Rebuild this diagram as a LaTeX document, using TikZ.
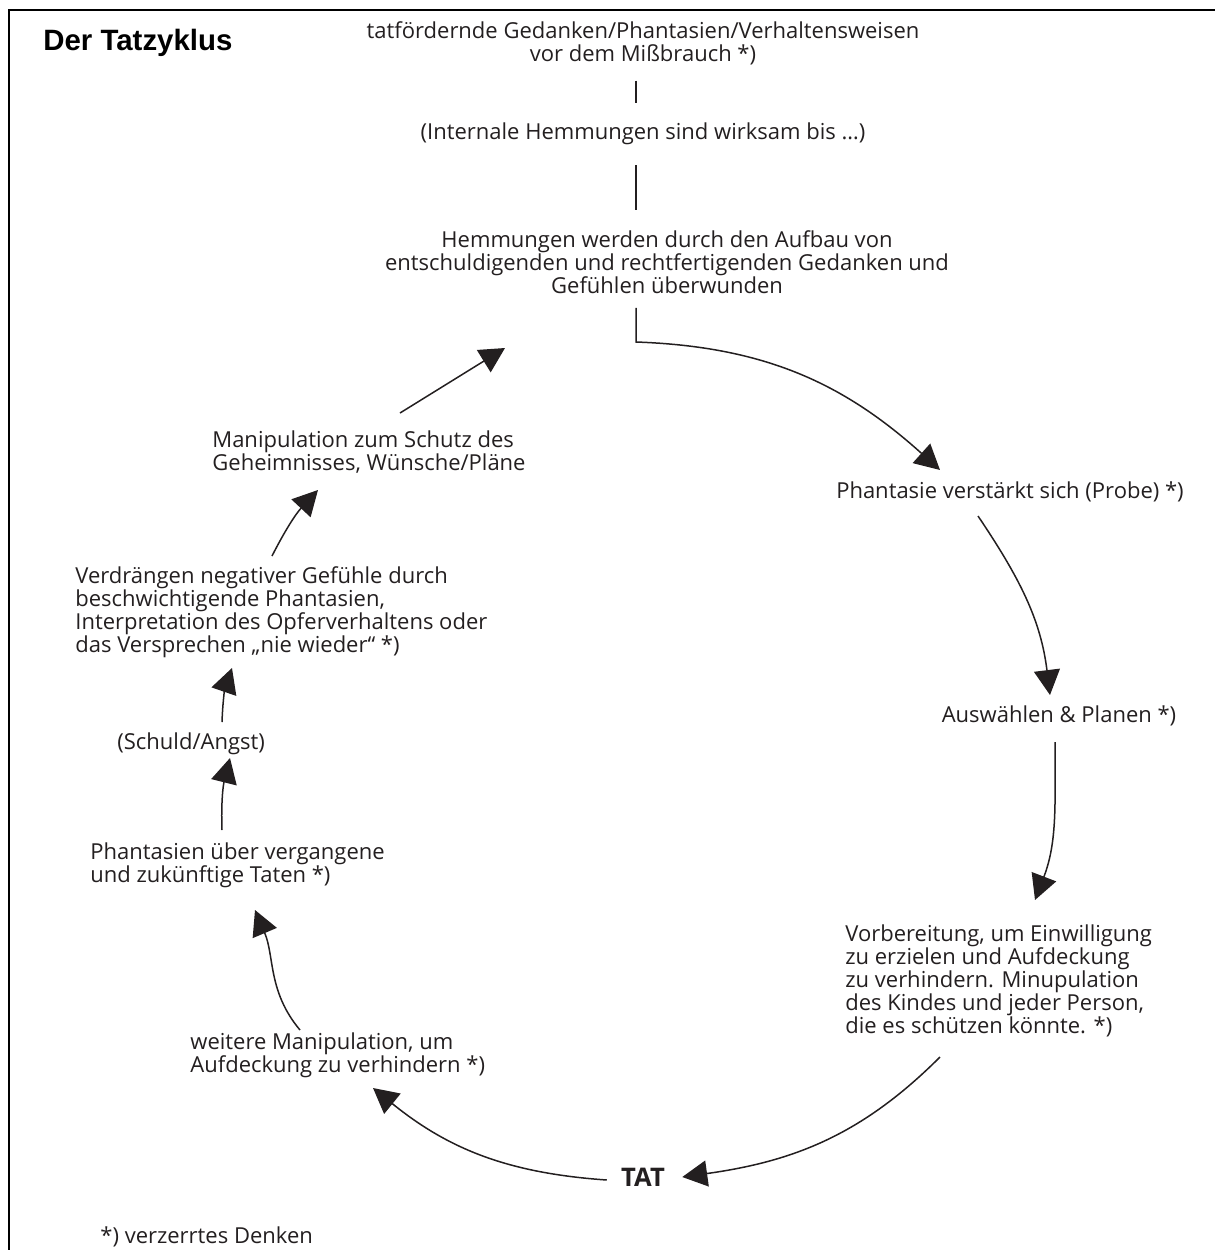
\documentclass[tikz,border=0pt]{standalone}
\usepackage{fontspec}
\setmainfont{Open Sans}
\newfontfamily\titlefont{Liberation Sans}
\usetikzlibrary{arrows.meta,calc}
\definecolor{ink}{RGB}{35,31,32}
\begin{document}
\begin{tikzpicture}[x=0.5pt,y=0.5pt,
  lbl/.style={font=\fontsize{11}{11.5}\selectfont, text=ink, inner sep=0pt, align=center},
  lbll/.style={lbl, align=left, anchor=west},
  conn/.style={draw=ink, line width=0.75pt, -{Triangle[length=12.5pt,width=13pt]}},
  plainline/.style={draw=ink, line width=0.75pt}]
\useasboundingbox (0,0) rectangle (1215,-1250);
% frame
\draw[line width=1pt] (9,-1250) -- (9,-10) -- (1215,-10);
% title
\node[anchor=west, inner sep=0pt, font=\titlefont\bfseries\fontsize{14.7}{16}\selectfont] (title) at (43,-43) {Der Tatzyklus};
% nodes
\node[lbl] (top) at (643,-43.5) {tatfördernde Gedanken/Phantasien/Verhaltensweisen\\vor dem Mißbrauch *)};
\node[lbl] (intern) at (643,-134) {(Internale Hemmungen sind wirksam bis …)};
\node[lbl] (hem) at (667,-262) {Hemmungen werden durch den Aufbau von\\entschuldigenden und rechtfertigenden Gedanken und\\Gefühlen überwunden};
\node[lbl] (phan) at (1010,-492) {Phantasie verstärkt sich (Probe) *)};
\node[lbl] (ausw) at (1059,-716) {Auswählen \& Planen *)};
\node[lbll] (vorb) at (845,-981) {Vorbereitung, um Einwilligung\\zu erzielen und Aufdeckung\\zu verhindern. Minupulation\\des Kindes und jeder Person,\\die es schützen könnte. *)};
\node[lbl, font=\bfseries\fontsize{12.8}{14}\selectfont] (tat) at (643,-1177) {TAT};
\node[lbll] (weit) at (190,-1055) {weitere Manipulation, um\\Aufdeckung zu verhindern *)};
\node[lbll] (phtat) at (90,-865) {Phantasien über vergangene\\und zukünftige Taten *)};
\node[lbll] (schuld) at (117,-744) {(Schuld/Angst)};
\node[lbll] (verd) at (75,-612) {Verdrängen negativer Gefühle durch\\beschwichtigende Phantasien,\\Interpretation des Opferverhaltens oder\\das Versprechen „nie wieder“ *)};
\node[lbll] (mani) at (212,-452) {Manipulation zum Schutz des\\Geheimnisses, Wünsche/Pläne};
\node[lbll] (foot) at (100,-1237) {*) verzerrtes Denken};
% vertical connectors
\coordinate (lx) at (636,0);
\draw[plainline] ($(top.south -| lx)+(0,-15)$) -- ($(intern.north -| lx)+(0,20)$);
\draw[plainline] ($(intern.south -| lx)+(0,-20)$) -- ($(hem.north -| lx)+(0,20)$);
% cycle connectors
\coordinate (A1) at (636,-342);
\coordinate (A2) at (940,-470);
\draw[conn] ($(hem.south -| lx)+(0,-14)$) -- (A1) to[out=-2,in=138] (A2);
\coordinate (B1) at (978,-516);
\coordinate (B2) at (1050,-695);
\draw[conn] (B1) to[out=-56,in=97] (B2);
\coordinate (C1) at (1055,-742);
\coordinate (C2) at (1035,-900);
\draw[conn] (C1) to[out=-90,in=69] (C2);
\coordinate (D1) at (940,-1057);
\draw[conn] (D1) to[out=-135,in=8] ($(tat.east)+(17,0)$);
\coordinate (E2) at (373,-1088);
\draw[conn] ($(tat.west)+(-14,-3)$) to[out=176,in=-39] (E2);
\coordinate (F1) at (300,-1030);
\coordinate (F2) at (255,-910);
\draw[conn] (F1) to[out=130,in=-67] (F2);
\coordinate (G1) at (222,-830);
\coordinate (G2) at (230,-758);
\draw[conn] (G1) to[out=92,in=-104] (G2);
\coordinate (H1) at (222,-722);
\coordinate (H2) at (232,-668);
\draw[conn] (H1) to[out=88,in=-109] (H2);
\coordinate (I1) at (272,-556);
\coordinate (I2) at (318,-490);
\draw[conn] (I1) to[out=63,in=-133] (I2);
\coordinate (J1) at (400,-413);
\coordinate (J2) at (505,-348);
\draw[conn] (J1) -- (J2);
\end{tikzpicture}
\end{document}
